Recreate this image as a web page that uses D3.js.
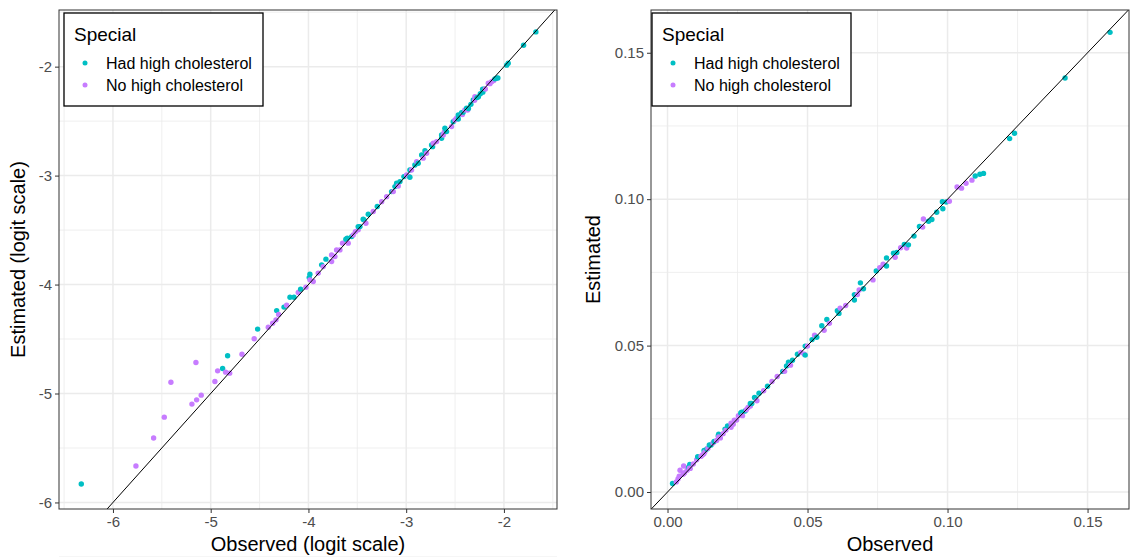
<!DOCTYPE html>
<html>
<head>
<meta charset="UTF-8">
<title>Observed vs estimated</title>
<script src="https://d3js.org/d3.v7.min.js"></script>
<style>
  body { margin: 0; background: #fff; }
  text { font-family: "Liberation Sans", Arial, sans-serif; }
</style>
</head>
<body>
<script>
// categories and colours of the legend
var categories = ["Had high cholesterol", "No high cholesterol"];
var colors = ["#00BFC4", "#C77CFF"];

// observed / estimated on the logit scale
// (the high end was read off the right panel and converted)
var obsLogit = [-6.324,-5.765,-5.584,-5.475,-5.407,-5.192,-5.144,-5.097,-5.151,-4.957,
  -4.929,-4.878,-4.827,-4.847,-4.806,-4.680,-4.555,-4.520,-4.411,-4.366,
  -4.332,-4.325,-4.305,-4.250,-4.223,-4.189,-4.148,-4.104,-4.080,-4.026,
  -3.992,-3.985,-3.985,-3.951,-3.900,-3.865,-3.849,-3.821,-3.763,-3.763,
  -3.729,-3.712,-3.678,-3.651,-3.617,-3.603,-3.593,-3.558,-3.542,-3.520,
  -3.491,-3.491,-3.473,-3.440,-3.432,-3.412,-3.388,-3.337,-3.296,-3.251,
  -3.200,-3.149,-3.132,-3.115,-3.098,-3.081,-3.064,-3.023,-2.996,-2.969,
  -2.962,-2.962,-2.945,-2.911,-2.893,-2.877,-2.842,-2.826,-2.808,-2.791,
  -2.740,-2.730,-2.723,-2.689,-2.638,-2.638,-2.621,-2.611,-2.604,-2.587,
  -2.536,-2.519,-2.501,-2.484,-2.467,-2.467,-2.433,-2.425,-2.417,-2.399,
  -2.382,-2.371,-2.363,-2.338,-2.314,-2.300,-2.297,-2.275,-2.261,-2.241,
  -2.218,-2.216,-2.202,-2.190,-2.160,-2.143,-2.126,-2.104,-2.092,-2.075,
  -2.062,-1.972,-1.956,-1.799,-1.673];
var estLogit = [-5.831,-5.666,-5.409,-5.217,-4.896,-5.097,-5.058,-5.015,-4.716,-4.890,
  -4.792,-4.771,-4.654,-4.804,-4.813,-4.639,-4.498,-4.409,-4.391,-4.354,
  -4.324,-4.239,-4.275,-4.207,-4.189,-4.116,-4.116,-4.073,-4.042,-4.024,
  -3.936,-3.905,-3.957,-3.972,-3.895,-3.819,-3.835,-3.767,-3.789,-3.728,
  -3.743,-3.682,-3.682,-3.620,-3.584,-3.574,-3.620,-3.560,-3.544,-3.515,
  -3.498,-3.468,-3.468,-3.400,-3.406,-3.437,-3.354,-3.330,-3.284,-3.239,
  -3.193,-3.147,-3.147,-3.101,-3.070,-3.095,-3.055,-3.009,-2.994,-3.009,
  -3.015,-2.948,-2.948,-2.902,-2.872,-2.886,-2.810,-2.840,-2.771,-2.795,
  -2.718,-2.734,-2.703,-2.688,-2.627,-2.657,-2.627,-2.602,-2.565,-2.596,
  -2.550,-2.505,-2.489,-2.473,-2.443,-2.481,-2.422,-2.440,-2.418,-2.397,
  -2.382,-2.398,-2.384,-2.346,-2.305,-2.308,-2.275,-2.284,-2.277,-2.248,
  -2.207,-2.234,-2.208,-2.205,-2.152,-2.156,-2.138,-2.127,-2.112,-2.106,
  -2.103,-1.986,-1.969,-1.804,-1.681];
// 0 = Had high cholesterol, 1 = No high cholesterol
var group = [0,1,1,1,1,1,1,1,1,1,
  1,0,0,1,1,1,1,0,1,1,
  1,0,1,0,1,0,0,1,0,1,
  0,0,1,1,1,0,1,0,1,1,
  1,1,1,1,0,0,1,0,1,1,
  1,0,0,0,0,1,0,1,0,1,
  1,0,1,0,0,1,0,0,1,1,
  0,0,1,0,1,0,0,1,0,1,
  0,0,1,1,0,0,1,1,0,0,
  1,0,1,1,0,0,0,1,0,1,
  0,1,0,0,0,1,1,0,0,0,
  0,0,0,1,1,1,1,1,0,0,
  0,0,0,0,0];

var logitTicks = [-6,-5,-4,-3,-2];
var logitMinor = [-6.5,-5.5,-4.5,-3.5,-2.5,-1.5];
var probTicks = [0, 0.05, 0.10, 0.15];
var probMinor = [0.025, 0.075, 0.125];

function expit(v) { return 1 / (1 + Math.exp(-v)); }

var W = 1132, H = 557;
var svg = d3.select("body").append("svg").attr("width", W).attr("height", H);

function panel(o) {
  var x = d3.scaleLinear().domain(o.xd).range([o.left, o.right]);
  var y = d3.scaleLinear().domain(o.yd).range([o.bottom, o.top]);
  var g = svg.append("g");

  var clipId = "clip" + o.id;
  svg.append("clipPath").attr("id", clipId).append("rect")
    .attr("x", o.left).attr("y", o.top)
    .attr("width", o.right - o.left).attr("height", o.bottom - o.top);

  // grid
  g.selectAll(".vmin").data(o.minor).enter().append("line")
    .attr("x1", x).attr("x2", x).attr("y1", o.top).attr("y2", o.bottom)
    .attr("stroke", "#ebebeb").attr("stroke-width", 0.8);
  g.selectAll(".hmin").data(o.minor).enter().append("line")
    .attr("y1", y).attr("y2", y).attr("x1", o.left).attr("x2", o.right)
    .attr("stroke", "#ebebeb").attr("stroke-width", 0.8);
  g.selectAll(".vmaj").data(o.ticks).enter().append("line")
    .attr("x1", x).attr("x2", x).attr("y1", o.top).attr("y2", o.bottom)
    .attr("stroke", "#ebebeb").attr("stroke-width", 1.5);
  g.selectAll(".hmaj").data(o.ticks).enter().append("line")
    .attr("y1", y).attr("y2", y).attr("x1", o.left).attr("x2", o.right)
    .attr("stroke", "#ebebeb").attr("stroke-width", 1.5);

  // points
  var pts = d3.range(o.xs.length);
  var pg = g.append("g").attr("clip-path", "url(#" + clipId + ")");
  pg.selectAll("circle").data(pts).enter().append("circle")
    .attr("cx", function(i){ return x(o.xs[i]); })
    .attr("cy", function(i){ return y(o.ys[i]); })
    .attr("r", 2.7)
    .attr("fill", function(i){ return colors[group[i]]; });

  // identity line
  var lo = Math.min(o.xd[0], o.yd[0]) - 1, hi = Math.max(o.xd[1], o.yd[1]) + 1;
  pg.append("line")
    .attr("x1", x(lo)).attr("y1", y(lo)).attr("x2", x(hi)).attr("y2", y(hi))
    .attr("stroke", "#000").attr("stroke-width", 1);

  // border
  g.append("rect")
    .attr("x", o.left).attr("y", o.top)
    .attr("width", o.right - o.left).attr("height", o.bottom - o.top)
    .attr("fill", "none").attr("stroke", "#333").attr("stroke-width", 1);

  // axes
  var xa = g.append("g").attr("transform", "translate(0," + o.bottom + ")")
    .call(d3.axisBottom(x).tickValues(o.ticks).tickFormat(o.fmt).tickSize(4).tickPadding(3));
  var ya = g.append("g").attr("transform", "translate(" + o.left + ",0)")
    .call(d3.axisLeft(y).tickValues(o.ticks).tickFormat(o.fmt).tickSize(4).tickPadding(3));
  [xa, ya].forEach(function(a){
    a.select(".domain").remove();
    a.selectAll("line").attr("stroke", "#333").attr("stroke-width", 1);
    a.selectAll("text").attr("fill", "#4d4d4d").style("font-size", "15px")
      .style("font-family", "'Liberation Sans', Arial, sans-serif");
  });

  // titles
  g.append("text").attr("x", (o.left + o.right) / 2).attr("y", 551)
    .attr("text-anchor", "middle").style("font-size", "20px").attr("fill", "#000")
    .text(o.xlab);
  g.append("text")
    .attr("transform", "translate(" + o.ylabX + "," + ((o.top + o.bottom) / 2) + ") rotate(-90)")
    .attr("text-anchor", "middle").style("font-size", "20px").attr("fill", "#000")
    .text(o.ylab);

  // legend
  var lx = o.legX, ly = o.top + 3;
  var lg = g.append("g");
  lg.append("rect").attr("x", lx).attr("y", ly).attr("width", 199).attr("height", 93)
    .attr("fill", "#fff").attr("stroke", "#000").attr("stroke-width", 1.3);
  lg.append("text").attr("x", lx + 10).attr("y", ly + 28)
    .style("font-size", "19px").attr("fill", "#000").text("Special");
  lg.selectAll(".key").data(categories).enter().append("circle")
    .attr("cx", lx + 21).attr("cy", function(d, i){ return ly + 50 + i * 22; })
    .attr("r", 2.5).attr("fill", function(d, i){ return colors[i]; });
  lg.selectAll(".lab").data(categories).enter().append("text")
    .attr("x", lx + 42).attr("y", function(d, i){ return ly + 56 + i * 22; })
    .style("font-size", "16px").attr("fill", "#000").text(function(d){ return d; });
}

// plain hyphen minus, as in the original
var intFmt = function(d){ return String(d); };

panel({
  id: "L", left: 59, right: 557, top: 10, bottom: 509,
  xd: [-6.552, -1.457], yd: [-6.06, -1.48],
  xs: obsLogit, ys: estLogit,
  ticks: logitTicks, minor: logitMinor, fmt: intFmt,
  xlab: "Observed (logit scale)", ylab: "Estimated (logit scale)", ylabX: 25,
  legX: 64
});

panel({
  id: "R", left: 651, right: 1129, top: 10, bottom: 509,
  xd: [-0.0059, 0.1648], yd: [-0.0058, 0.1646],
  xs: obsLogit.map(expit), ys: estLogit.map(expit),
  ticks: probTicks, minor: probMinor, fmt: d3.format(".2f"),
  xlab: "Observed", ylab: "Estimated", ylabX: 600,
  legX: 652
});
</script>
</body>
</html>
